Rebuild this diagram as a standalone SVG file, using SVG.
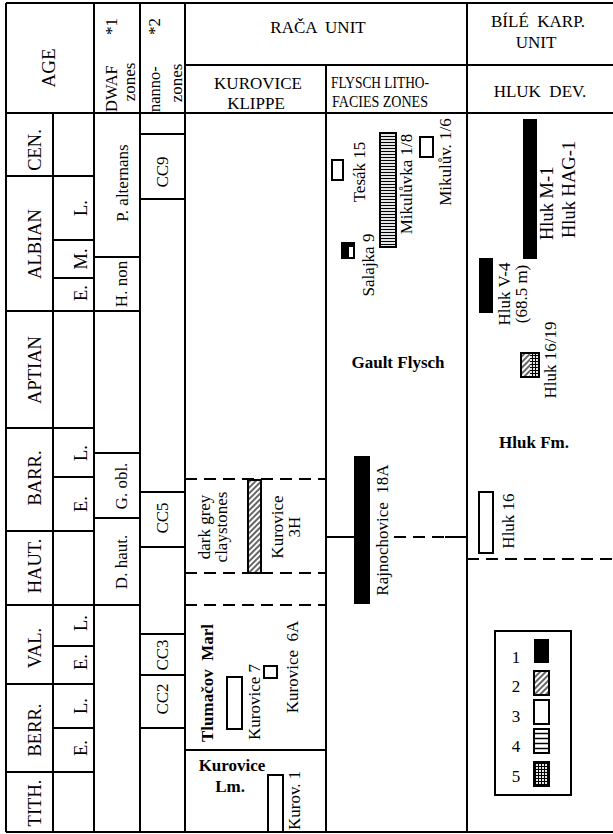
<svg xmlns="http://www.w3.org/2000/svg" width="613" height="834" viewBox="0 0 613 834">
<defs>
<style>
.t{font-family:"Liberation Serif","Times New Roman",serif;font-size:17px;fill:#000}
.a{font-size:18.5px}
.b{font-weight:bold}
.m{text-anchor:middle}
.e{text-anchor:end}
.g{stroke:#000;stroke-width:2;fill:none}
.d{stroke:#000;stroke-width:2;fill:none;stroke-dasharray:12 7}
.bx{stroke:#000;stroke-width:2}
</style>
<pattern id="hatch" patternUnits="userSpaceOnUse" width="4" height="4" patternTransform="rotate(45)"><rect width="4" height="4" fill="#fff"/><line x1="1" y1="0" x2="1" y2="4" stroke="#000" stroke-width="1.2"/></pattern>
<pattern id="hl3" patternUnits="userSpaceOnUse" width="4" height="3"><rect width="4" height="3" fill="#fff"/><line x1="0" y1="1.5" x2="4" y2="1.5" stroke="#000" stroke-width="1.2"/></pattern>
<pattern id="hl5" patternUnits="userSpaceOnUse" x="0" y="731" width="4" height="5"><rect width="4" height="5" fill="#fff"/><line x1="0" y1="2.5" x2="4" y2="2.5" stroke="#000" stroke-width="1.5"/></pattern>
<pattern id="grid" patternUnits="userSpaceOnUse" width="3" height="3"><rect width="3" height="3" fill="#fff"/><path d="M0 1.5H3M1.5 0V3" stroke="#000" stroke-width="1.2"/></pattern>
</defs>
<rect width="613" height="834" fill="#fff"/>

<g id="connectors">
<path class="g" d="M6 3H613M6 113H613M6 832H613M185 65H613
M6 3V832M53 113V832M94 3V832M140 3V832M185 3V832M326 65V832M467 3V832
M6 176H94M6 311H140M6 428H94M6 531H94M6 605H140M6 684H94M6 772H94
M53 240H94M53 278H94M53 477H94M53 646H94M53 728H94
M94 257H140M94 453H140M94 518H140
M140 134H185M140 199H185M140 492H185M140 547H185M140 634H185M140 675H185M140 728H185
M185 750H326M326 537H354M445 537H467"/>
<path class="d" d="M185 479H326M185 573H326M185 605H326M394 537H445M467 559H613"/>
</g>

<g id="header" class="t">
<text class="m" style="font-size:19px" transform="translate(55,68) rotate(-90)">AGE</text>
<text transform="translate(117,112) rotate(-90)" style="font-size:16.5px">DWAF</text>
<text class="e" transform="translate(117,18) rotate(-90)">*1</text>
<text class="m" transform="translate(135,82) rotate(-90)">zones</text>
<text transform="translate(160,112) rotate(-90)" style="font-size:16.5px">nanno-</text>
<text class="e" transform="translate(160,18) rotate(-90)">*2</text>
<text class="m" transform="translate(182,83) rotate(-90)">zones</text>
<text class="m" x="318" y="33" xml:space="preserve">RAČA  UNIT</text>
<text class="m" x="538" y="27" xml:space="preserve">BÍLÉ  KARP.</text>
<text class="m" x="536" y="48">UNIT</text>
<text class="m" x="258" y="89">KUROVICE</text>
<text class="m" x="256" y="109">KLIPPE</text>
<text class="m" x="380" y="88" style="font-size:16px" textLength="98" lengthAdjust="spacingAndGlyphs">FLYSCH LITHO-</text>
<text class="m" x="380" y="107" style="font-size:16px" textLength="96" lengthAdjust="spacingAndGlyphs">FACIES ZONES</text>
<text class="m" x="540" y="97" xml:space="preserve">HLUK  DEV.</text>
</g>

<g id="age" class="t a m">
<text transform="translate(41,150) rotate(-90)">CEN.</text>
<text transform="translate(41,244) rotate(-90)">ALBIAN</text>
<text transform="translate(41,370) rotate(-90)">APTIAN</text>
<text transform="translate(41,478) rotate(-90)">BARR.</text>
<text transform="translate(41,566) rotate(-90)">HAUT.</text>
<text transform="translate(41,648) rotate(-90)">VAL.</text>
<text transform="translate(41,730) rotate(-90)">BERR.</text>
<text transform="translate(41,803) rotate(-90)">TITH.</text>
<text transform="translate(87,208) rotate(-90)">L.</text>
<text transform="translate(87,259) rotate(-90)">M.</text>
<text transform="translate(87,293) rotate(-90)">E.</text>
<text transform="translate(87,453) rotate(-90)">L.</text>
<text transform="translate(87,504) rotate(-90)">E.</text>
<text transform="translate(87,623) rotate(-90)">L.</text>
<text transform="translate(87,662) rotate(-90)">E.</text>
<text transform="translate(87,706) rotate(-90)">L.</text>
<text transform="translate(87,748) rotate(-90)">E.</text>
</g>

<g id="dwaf" class="t m">
<text transform="translate(128,183) rotate(-90)">P. alternans</text>
<text transform="translate(127,284) rotate(-90)">H. non</text>
<text transform="translate(127,486) rotate(-90)">G. obl.</text>
<text transform="translate(127,562) rotate(-90)">D. haut.</text>
</g>

<g id="nanno" class="t m">
<text transform="translate(168,172) rotate(-90)">CC9</text>
<text transform="translate(168,518) rotate(-90)">CC5</text>
<text transform="translate(168,655) rotate(-90)">CC3</text>
<text transform="translate(168,699) rotate(-90)">CC2</text>
</g>

<g id="kurovice" class="t">
<text class="m" transform="translate(210,527) rotate(-90)">dark grey</text>
<text class="m" transform="translate(227,527) rotate(-90)">claystones</text>
<rect class="bx" x="248" y="480" width="13" height="93" fill="url(#hatch)"/>
<text class="m" transform="translate(283,527) rotate(-90)">Kurovice</text>
<text class="m" transform="translate(300,527) rotate(-90)">3H</text>
<text class="m b" transform="translate(213,683) rotate(-90)" xml:space="preserve">Tlumačov  Marl</text>
<rect class="bx" x="227" y="677" width="15" height="52" fill="#fff"/>
<text class="m" transform="translate(260,702) rotate(-90)">Kurovice 7</text>
<rect class="bx" x="264" y="666" width="13" height="12" fill="#fff"/>
<text class="m" transform="translate(298,667) rotate(-90)" xml:space="preserve">Kurovice  6A</text>
<text class="m b" x="232" y="771">Kurovice</text>
<text class="m b" x="230" y="792">Lm.</text>
<rect class="bx" x="268" y="775" width="15" height="57" fill="#fff"/>
<text transform="translate(300,830) rotate(-90)">Kurov. 1</text>
</g>

<g id="flysch" class="t">
<rect class="bx" x="332" y="160" width="11" height="20" fill="#fff"/>
<text class="m" transform="translate(365,172) rotate(-90)">Tesák 15</text>
<rect class="bx" x="342" y="243" width="12" height="15" fill="#fff"/>
<rect x="342" y="243" width="7" height="15" fill="#000"/>
<rect x="342" y="243" width="12" height="4" fill="#000"/>
<text class="m" transform="translate(374,265) rotate(-90)">Salajka 9</text>
<rect class="bx" x="380" y="133" width="16" height="114" fill="url(#hl3)"/>
<text class="m" transform="translate(412,184) rotate(-90)">Mikulůvka 1/8</text>
<rect class="bx" x="420" y="137" width="13" height="20" fill="#fff"/>
<text class="m" transform="translate(451,162) rotate(-90)">Mikulův. 1/6</text>
<text class="m b" x="398" y="368">Gault Flysch</text>
<rect x="354" y="456" width="16" height="148" fill="#000"/>
<text class="m" transform="translate(388,530) rotate(-90)" xml:space="preserve">Rajnochovice  18A</text>
</g>

<g id="hluk" class="t">
<rect x="523" y="119" width="14" height="140" fill="#000"/>
<text transform="translate(553,240) rotate(-90)" style="font-size:18.5px">Hluk M-1</text>
<text transform="translate(575,238) rotate(-90)" style="font-size:18.5px">Hluk HAG-1</text>
<rect x="479" y="258" width="14" height="55" fill="#000"/>
<text class="m" transform="translate(510,294) rotate(-90)">Hluk V-4</text>
<text class="m" transform="translate(527,294) rotate(-90)">(68.5 m)</text>
<rect x="521" y="353" width="9" height="24" fill="url(#hatch)"/>
<rect x="530" y="353" width="9" height="24" fill="url(#grid)"/>
<rect class="bx" x="521" y="353" width="18" height="24" fill="none"/>
<text class="m" transform="translate(556,360) rotate(-90)">Hluk 16/19</text>
<text class="m b" x="534" y="448">Hluk Fm.</text>
<rect class="bx" x="479" y="492" width="14" height="61" fill="#fff"/>
<text class="m" transform="translate(514,521) rotate(-90)">Hluk 16</text>
</g>

<g id="legend" class="t">
<rect class="bx" x="495" y="631" width="76" height="164" fill="#fff"/>
<text class="m" x="516" y="663">1</text>
<text class="m" x="516" y="692">2</text>
<text class="m" x="516" y="722">3</text>
<text class="m" x="516" y="752">4</text>
<text class="m" x="516" y="782">5</text>
<rect x="534" y="639" width="15" height="24" fill="#000"/>
<rect class="bx" x="534" y="671" width="15" height="24" fill="url(#hatch)"/>
<rect class="bx" x="534" y="700" width="15" height="24" fill="#fff"/>
<rect class="bx" x="534" y="729" width="15" height="24" fill="url(#hl5)"/>
<rect class="bx" x="534" y="762" width="15" height="24" fill="url(#grid)"/>
</g>
</svg>
